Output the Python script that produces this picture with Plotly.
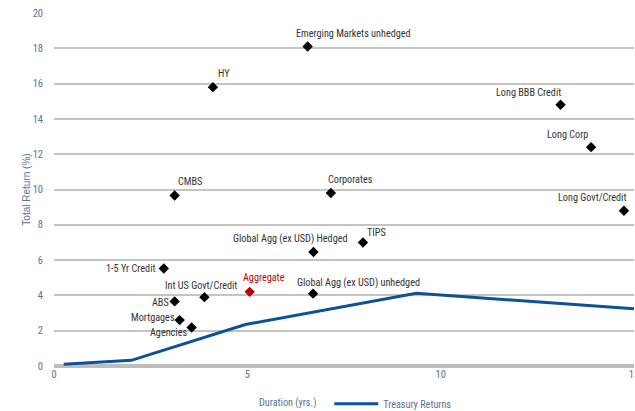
import plotly.graph_objects as go

# Sector data: duration (yrs) vs total return (%)
sectors = ["Emerging Markets unhedged", "HY", "Long BBB Credit", "Long Corp", "Long Govt/Credit",
           "CMBS", "Corporates", "TIPS", "Global Agg (ex USD) Hedged", "1-5 Yr Credit",
           "Int US Govt/Credit", "Aggregate", "Global Agg (ex USD) unhedged", "ABS",
           "Mortgages", "Agencies"]
duration = [6.56, 4.11, 13.1, 13.89, 14.74, 3.12, 7.16, 7.99, 6.71, 2.84, 3.89, 5.06, 6.7, 3.12, 3.25, 3.56]
total_return = [18.1, 15.8, 14.8, 12.4, 8.8, 9.66, 9.8, 7.0, 6.46, 5.52, 3.9, 4.2, 4.1, 3.66, 2.6, 2.18]

# Treasury returns curve
tsy_duration = [0.25, 2.0, 4.95, 9.37, 15.0]
tsy_return = [0.1, 0.32, 2.35, 4.12, 3.25]

x_ticks = [0, 5, 10, 15]
y_ticks = [0, 2, 4, 6, 8, 10, 12, 14, 16, 18, 20]

# label placement: (xanchor, xshift, yshift)
label_pos = {
    "Emerging Markets unhedged": ("left", -14, 13),
    "HY": ("left", 3, 14),
    "Long BBB Credit": ("right", 2, 12),
    "Long Corp": ("right", -1, 13),
    "Long Govt/Credit": ("right", 4, 13),
    "CMBS": ("left", 1, 14),
    "Corporates": ("left", -5, 14),
    "TIPS": ("left", 2, 10),
    "Global Agg (ex USD) Hedged": ("right", 37, 13),
    "1-5 Yr Credit": ("right", -7, 0),
    "Int US Govt/Credit": ("center", -3, 12),
    "Aggregate": ("left", -9, 14),
    "Global Agg (ex USD) unhedged": ("left", -18, 11),
    "ABS": ("right", -4, -1),
    "Mortgages": ("right", -3, 3),
    "Agencies": ("right", -3, -5),
}

FONT = "Roboto Condensed, DejaVu Sans Condensed, sans-serif"
AXIS_COLOR = "#5b7299"
RED = "#c00000"
FS = 10.2
L, R, T, B = 53.5, 1, 12.7, 45.3
PW = 635 - L - R

colors = [RED if s == "Aggregate" else "black" for s in sectors]

fig = go.Figure()
fig.add_trace(go.Scatter(
    x=tsy_duration, y=tsy_return, mode="lines",
    line=dict(color="#0d5196", width=3),
    name="Treasury Returns", showlegend=True,
))
fig.add_trace(go.Scatter(
    x=duration, y=total_return, mode="markers", cliponaxis=False,
    marker=dict(symbol="diamond", size=8, color=colors),
    showlegend=False, hoverinfo="text", text=sectors,
))

for s, xv, yv in zip(sectors, duration, total_return):
    xa, xs, ys = label_pos[s]
    fig.add_annotation(
        x=xv, y=yv, text=s, showarrow=False,
        xanchor=xa, yanchor="middle", xshift=xs, yshift=ys,
        font=dict(family=FONT, size=FS, color=RED if s == "Aggregate" else "#333333"),
    )

fig.add_annotation(
    x=(287 - L) / PW, xref="paper", y=-0.105, yref="paper", text="Duration (yrs.)", showarrow=False,
    font=dict(family=FONT, size=FS, color=AXIS_COLOR), xanchor="center", yanchor="middle",
)

fig.update_layout(
    width=635, height=411,
    margin=dict(l=L, r=R, t=T, b=B, autoexpand=False),
    plot_bgcolor="white", paper_bgcolor="white",
    font=dict(family=FONT, size=FS, color=AXIS_COLOR),
    legend=dict(orientation="h", x=(329 - L) / PW, xanchor="left",
                y=-0.107, yanchor="middle", font=dict(family=FONT, size=FS, color=AXIS_COLOR),
                bgcolor="rgba(0,0,0,0)", itemwidth=44),
    xaxis=dict(range=[0, 15], tickvals=x_ticks, showgrid=False, zeroline=False, automargin=False,
               showline=False, ticks="", ticklabeloverflow="allow",
               tickfont=dict(family=FONT, size=10.5, color=AXIS_COLOR)),
    yaxis=dict(range=[0, 20], tickvals=y_ticks, showgrid=True, gridcolor="#c4c4c4", gridwidth=1.5,
               zeroline=True, zerolinecolor="#bdbdbd", zerolinewidth=3.5, showline=False, ticks="",
               ticklabelstandoff=10, automargin=False,
               tickfont=dict(family=FONT, size=10.5, color=AXIS_COLOR),
               title=dict(text="Total Return (%)", standoff=0,
                          font=dict(family="Liberation Sans, Arial, sans-serif", size=10, color=AXIS_COLOR))),
)

fig.write_html("out.html", config={"displayModeBar": False},
               post_script="document.body.style.margin='0';document.body.style.overflow='hidden';")
